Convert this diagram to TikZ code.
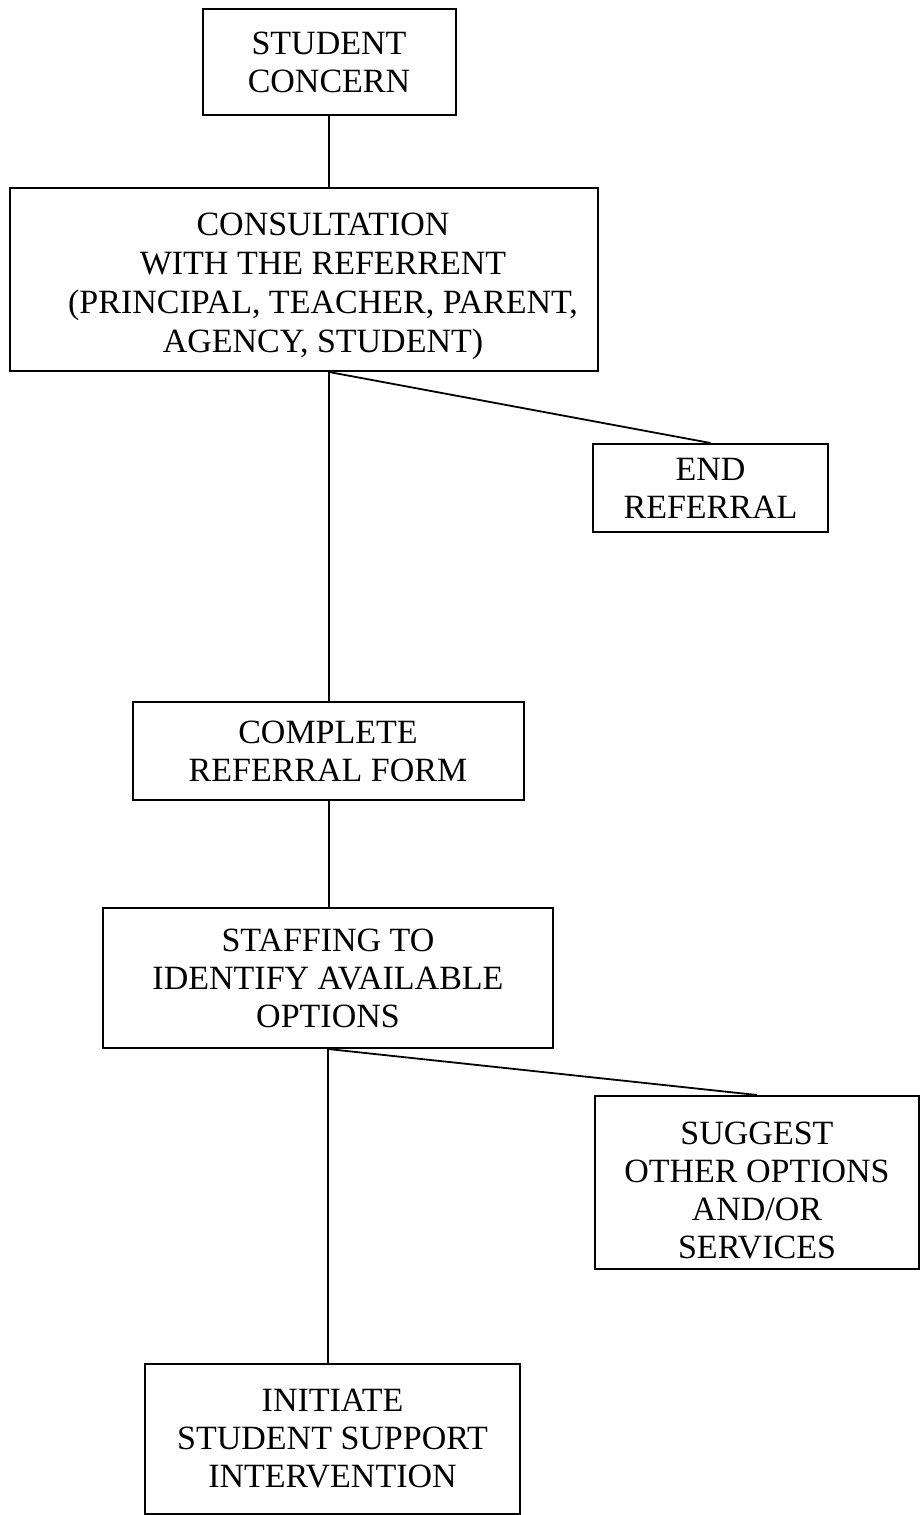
\documentclass[tikz,border=0pt]{standalone}
\usepackage{fontspec}
\setmainfont{Liberation Serif}
\begin{document}
\begin{tikzpicture}[x=1pt,y=-1pt,
  box/.style={draw, line width=2pt, inner sep=0pt, align=center,
              font=\fontsize{34}{38}\selectfont},
  txt/.style={inner sep=0pt, align=center, font=\fontsize{34}{38}\selectfont},
  conn/.style={line width=1.8pt}]
\useasboundingbox (0,0) rectangle (921,1515);
\fill[white] (0,0) rectangle (921,1515);

\node[box, minimum width=253pt, minimum height=106pt] (b1) at (329,62) {STUDENT\\CONCERN};

\node[box, minimum width=588pt, minimum height=183pt] (b2) at (304,279.5) {};
\node[txt, font=\fontsize{34}{39}\selectfont] (b2t) at (323,286) {CONSULTATION\\WITH THE REFERRENT\\(PRINCIPAL, TEACHER, PARENT,\\AGENCY, STUDENT)};

\node[box, minimum width=235pt, minimum height=88pt] (b3) at (710.5,488) {END\\REFERRAL};

\node[box, minimum width=391pt, minimum height=98pt] (b4) at (328,751) {COMPLETE\\REFERRAL FORM};

\node[box, minimum width=450pt, minimum height=140pt] (b5) at (328,978) {STAFFING TO\\IDENTIFY AVAILABLE\\OPTIONS};

\node[box, minimum width=324pt, minimum height=173pt] (b6) at (757,1182.5) {};
\node[txt] (b6t) at (757,1190) {SUGGEST\\OTHER OPTIONS\\AND/OR\\SERVICES};

\node[box, minimum width=375pt, minimum height=150pt] (b7) at (332.5,1439) {INITIATE\\STUDENT SUPPORT\\INTERVENTION};

\coordinate (j1) at (b1.south |- b2.south);
\coordinate (j2) at (b5.south);

\draw[conn] (b1.south) -- (b1.south |- b2.north);
\draw[conn] (j1) -- (j1 |- b4.north);
\draw[conn] (j1) -- (b3.north);
\draw[conn] (b4.south -| j1) -- (j1 |- b5.north);
\draw[conn] (j2) -- (j2 |- b7.north);
\draw[conn] (j2) -- (b6.north);
\end{tikzpicture}
\end{document}
